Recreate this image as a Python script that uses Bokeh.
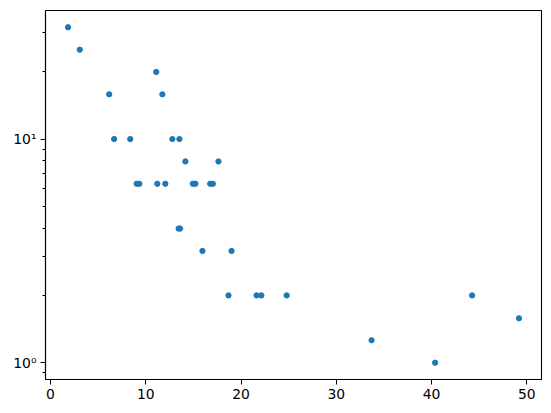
from bokeh.plotting import figure
from bokeh.models import Range1d, FixedTicker
from bokeh.embed import file_html
from bokeh.resources import INLINE
import math

# data
x_vals = [1.84, 3.07, 6.16, 11.10, 11.74, 6.68, 8.37, 12.79, 13.53, 14.16, 17.63,
          9.04, 9.32, 11.21, 12.05, 14.94, 15.21, 16.76, 17.04,
          13.45, 13.60, 15.95, 19.00, 18.68, 21.63, 22.13, 24.79,
          33.70, 40.37, 44.25, 49.17]
y_vals = [31.6, 25.1, 15.85, 19.95, 15.85, 10, 10, 10, 10, 7.94, 7.94,
          6.31, 6.31, 6.31, 6.31, 6.31, 6.31, 6.31, 6.31,
          3.98, 3.98, 3.16, 3.16, 2.0, 2.0, 2.0, 2.0,
          1.26, 1.0, 2.0, 1.58]
x_ticks = [0, 10, 20, 30, 40, 50]
y_ticks = [1, 10]
y_tick_labels = {1: "10⁰", 10: "10¹"}
y_minor = [0.9, 2, 3, 4, 5, 6, 7, 8, 9, 20, 30]

# matplotlib-like 5% margins
xmin, xmax = min(x_vals), max(x_vals)
xpad = 0.05 * (xmax - xmin)
lmin, lmax = math.log10(min(y_vals)), math.log10(max(y_vals))
lpad = 0.05 * (lmax - lmin)

p = figure(width=551, height=413, output_backend="svg", toolbar_location=None,
           y_axis_type="log",
           x_range=Range1d(xmin - xpad, xmax + xpad),
           y_range=Range1d(10 ** (lmin - lpad), 10 ** (lmax + lpad)),
           min_border_left=45, min_border_right=10, min_border_top=10,
           min_border_bottom=34)

p.scatter(x_vals, y_vals, size=5.3, fill_color="#1f77b4", line_color="#1f77b4")

p.xgrid.visible = False
p.ygrid.visible = False
p.outline_line_color = "black"
p.outline_line_width = 1.1
p.outline_line_alpha = 1.0
p.background_fill_color = "white"
p.border_fill_color = "white"

p.xaxis.ticker = FixedTicker(ticks=x_ticks)
p.yaxis.ticker = FixedTicker(ticks=y_ticks, minor_ticks=y_minor)
p.yaxis.major_label_overrides = y_tick_labels

for ax in (p.xaxis[0], p.yaxis[0]):
    ax.axis_line_color = "black"
    ax.axis_line_width = 1.1
    ax.major_tick_line_color = "black"
    ax.minor_tick_line_color = "black"
    ax.major_tick_in = 0
    ax.major_tick_out = 5
    ax.minor_tick_in = 0
    ax.minor_tick_out = 3
    ax.major_label_text_font = "DejaVu Sans"
    ax.major_label_text_font_size = "13.9px"
    ax.major_label_text_color = "black"
    ax.major_label_standoff = 4
p.xaxis.minor_tick_line_color = None

open("out.html", "w").write(file_html(p, INLINE))
